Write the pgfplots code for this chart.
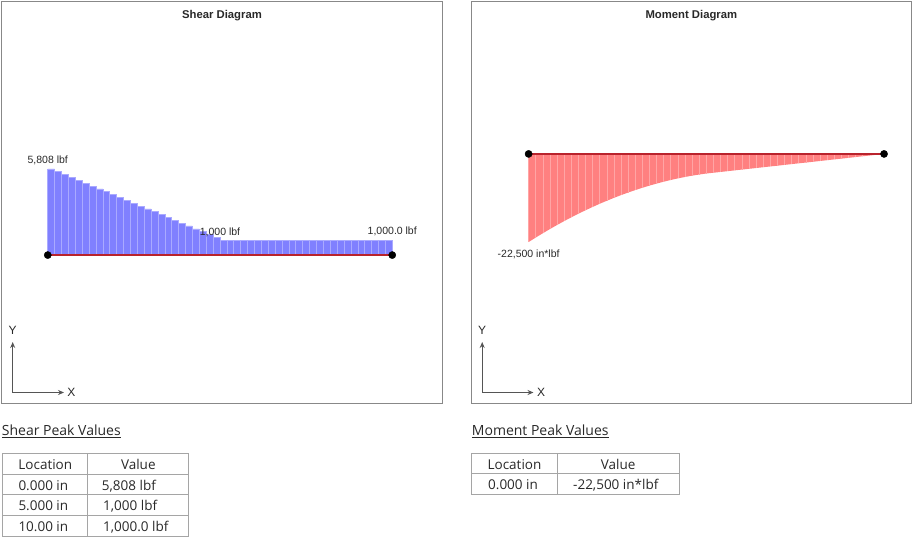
\documentclass[border=0pt]{standalone}
\usepackage{pgfplots}
\pgfplotsset{compat=1.18}
\usetikzlibrary{arrows.meta}
\usepackage{fontspec}
\setmainfont{Liberation Sans}
\newfontfamily\osans{Open Sans}
\definecolor{shearfill}{RGB}{128,128,255}
\definecolor{shearline}{RGB}{170,170,255}
\definecolor{momfill}{RGB}{255,128,128}
\definecolor{momline}{RGB}{255,165,165}
\definecolor{beam}{RGB}{185,35,45}
\definecolor{frame}{RGB}{136,136,136}
\definecolor{txt}{RGB}{40,40,40}
\definecolor{tabline}{RGB}{165,165,165}
\definecolor{indic}{RGB}{85,85,85}

\pgfplotstableread{
x V
0.0 5808
0.2 5615.7
0.4 5423.4
0.6 5231.0
0.8 5038.7
1.0 4846.4
1.2 4654.1
1.4 4461.8
1.6 4269.4
1.8 4077.1
2.0 3884.8
2.2 3692.5
2.4 3500.2
2.6 3307.8
2.8 3115.5
3.0 2923.2
3.2 2730.9
3.4 2538.6
3.6 2346.2
3.8 2153.9
4.0 1961.6
4.2 1769.3
4.4 1577.0
4.6 1384.6
4.8 1192.3
5.0 1000
5.2 1000
5.4 1000
5.6 1000
5.8 1000
6.0 1000
6.2 1000
6.4 1000
6.6 1000
6.8 1000
7.0 1000
7.2 1000
7.4 1000
7.6 1000
7.8 1000
8.0 1000
8.2 1000
8.4 1000
8.6 1000
8.8 1000
9.0 1000
9.2 1000
9.4 1000
9.6 1000
9.8 1000
10.0 1000
}\sheartable

\pgfplotstableread{
x M
0.0 -22500
0.2 -21357
0.4 -20251
0.6 -19181
0.8 -18149
1.0 -17154
1.2 -16195
1.4 -15274
1.6 -14389
1.8 -13541
2.0 -12730
2.2 -11957
2.4 -11220
2.6 -10520
2.8 -9857
3.0 -9230
3.2 -8641
3.4 -8089
3.6 -7574
3.8 -7095
4.0 -6654
4.2 -6249
4.4 -5881
4.6 -5551
4.8 -5257
5.0 -5000
5.2 -4800
5.4 -4600
5.6 -4400
5.8 -4200
6.0 -4000
6.2 -3800
6.4 -3600
6.6 -3400
6.8 -3200
7.0 -3000
7.2 -2800
7.4 -2600
7.6 -2400
7.8 -2200
8.0 -2000
8.2 -1800
8.4 -1600
8.6 -1400
8.8 -1200
9.0 -1000
9.2 -800
9.4 -600
9.6 -400
9.8 -200
10.0 0
}\momtable

\begin{document}
\begin{tikzpicture}
\begin{scope}[x=1pt,y=1pt]
\path[use as bounding box] (0,0) rectangle (914,-540);
\end{scope}

% ---------- Shear panel ----------
\begin{axis}[at={(1.7pt,-403.3pt)}, anchor=south west, scale only axis,
  width=440.6pt, height=401.6pt,
  xmin=-1.337, xmax=11.453, ymin=-9995, ymax=17086,
  axis line style={frame, line width=1pt}, ticks=none, clip=false]
  \addplot[ybar interval, fill=shearfill, draw=shearline, line width=0.6pt] table[x=x,y=V] {\sheartable};
  \addplot[beam, line width=2pt] coordinates {(0,0) (10,0)};
  \addplot[only marks, mark=*, mark size=3.6pt, black] coordinates {(0,0) (10,0)};
  \node[anchor=base, inner sep=0, font=\fontsize{10.5}{12}\selectfont, text=txt, yshift=5pt] at (axis cs:0,5808) {5,808 lbf};
  \node[anchor=base, inner sep=0, font=\fontsize{10.5}{12}\selectfont, text=txt, yshift=5pt] at (axis cs:5,1000) {1,000 lbf};
  \node[anchor=base, inner sep=0, font=\fontsize{10.5}{12}\selectfont, text=txt, yshift=6pt] at (axis cs:10,1000) {1,000.0 lbf};
  \node[anchor=base, inner sep=0, font=\bfseries\fontsize{11.3}{13}\selectfont, text=txt] at (rel axis cs:0.5,1) [yshift=-17pt] {Shear Diagram};
\end{axis}

% ---------- Moment panel ----------
\begin{axis}[at={(471.7pt,-403.3pt)}, anchor=south west, scale only axis,
  width=439.3pt, height=401.6pt,
  xmin=-1.601, xmax=10.758, ymin=-63665, ymax=38864,
  axis line style={frame, line width=1pt}, ticks=none, clip=false]
  \addplot[fill=momfill, draw=none] table[x=x,y=M] {\momtable} -- (axis cs:10,0) -- (axis cs:0,0) -- cycle;
  \addplot[ycomb, draw=momline, line width=0.6pt] table[x=x,y=M] {\momtable};
  \addplot[beam, line width=2pt] coordinates {(0,0) (10,0)};
  \addplot[only marks, mark=*, mark size=3.6pt, black] coordinates {(0,0) (10,0)};
  \node[anchor=base, inner sep=0, font=\fontsize{10.5}{12}\selectfont, text=txt, yshift=-15pt] at (axis cs:0,-22500) {-22,500 in*lbf};
  \node[anchor=base, inner sep=0, font=\bfseries\fontsize{11.3}{13}\selectfont, text=txt] at (rel axis cs:0.5,1) [yshift=-17pt] {Moment Diagram};
\end{axis}

\begin{scope}[x=1pt,y=1pt]
% ---------- XY indicators ----------
\foreach \ox in {0,469.5} {
  \draw[indic, line width=1.4pt, -{Stealth[length=6pt,width=5pt]}] (12.7+\ox,-392.5) -- (12.7+\ox,-342);
  \draw[indic, line width=1.4pt, -{Stealth[length=6pt,width=5pt]}] (12.7+\ox,-392.5) -- (64+\ox,-392.5);
  \node[font=\fontsize{12}{14}\selectfont, text=txt, inner sep=0] at (12.7+\ox,-330) {Y};
  \node[font=\fontsize{12}{14}\selectfont, text=txt, inner sep=0] at (71.5+\ox,-392) {X};
}

% ---------- Shear table ----------
\node[anchor=base west, inner sep=0, font=\osans\fontsize{14}{16}\selectfont, text=txt] at (1.7,-435.5) {\underline{Shear Peak Values}};
\draw[tabline, line width=1pt] (2,-453) rectangle (188.7,-536);
\draw[tabline, line width=1pt] (2,-474) -- (188.7,-474);
\draw[tabline, line width=1pt] (2,-494.7) -- (188.7,-494.7);
\draw[tabline, line width=1pt] (2,-515.3) -- (188.7,-515.3);
\draw[tabline, line width=1pt] (87.5,-453) -- (87.5,-536);
\begin{scope}[every node/.style={inner sep=0, font=\osans\fontsize{13.5}{15}\selectfont, text=txt}]
\node[anchor=base] at (45.3,-469) {Location};
\node[anchor=base] at (138.3,-469) {Value};
\node[anchor=base west] at (18.3,-490) {0.000 in};
\node[anchor=base west] at (18.3,-510.7) {5.000 in};
\node[anchor=base west] at (18.3,-531.3) {10.00 in};
\node[anchor=base west] at (101.7,-490) {5,808 lbf};
\node[anchor=base west] at (103,-510.7) {1,000 lbf};
\node[anchor=base west] at (103,-531.3) {1,000.0 lbf};
\end{scope}

% ---------- Moment table ----------
\node[anchor=base west, inner sep=0, font=\osans\fontsize{14}{16}\selectfont, text=txt] at (471.7,-435.5) {\underline{Moment Peak Values}};
\draw[tabline, line width=1pt] (471.7,-453) rectangle (679,-494);
\draw[tabline, line width=1pt] (471.7,-473.5) -- (679,-473.5);
\draw[tabline, line width=1pt] (557.3,-453) -- (557.3,-494);
\begin{scope}[every node/.style={inner sep=0, font=\osans\fontsize{13.5}{15}\selectfont, text=txt}]
\node[anchor=base] at (514.5,-469) {Location};
\node[anchor=base] at (618.2,-469) {Value};
\node[anchor=base west] at (488,-489.5) {0.000 in};
\node[anchor=base west] at (573,-489.5) {-22,500 in*lbf};
\end{scope}
\end{scope}
\end{tikzpicture}
\end{document}
